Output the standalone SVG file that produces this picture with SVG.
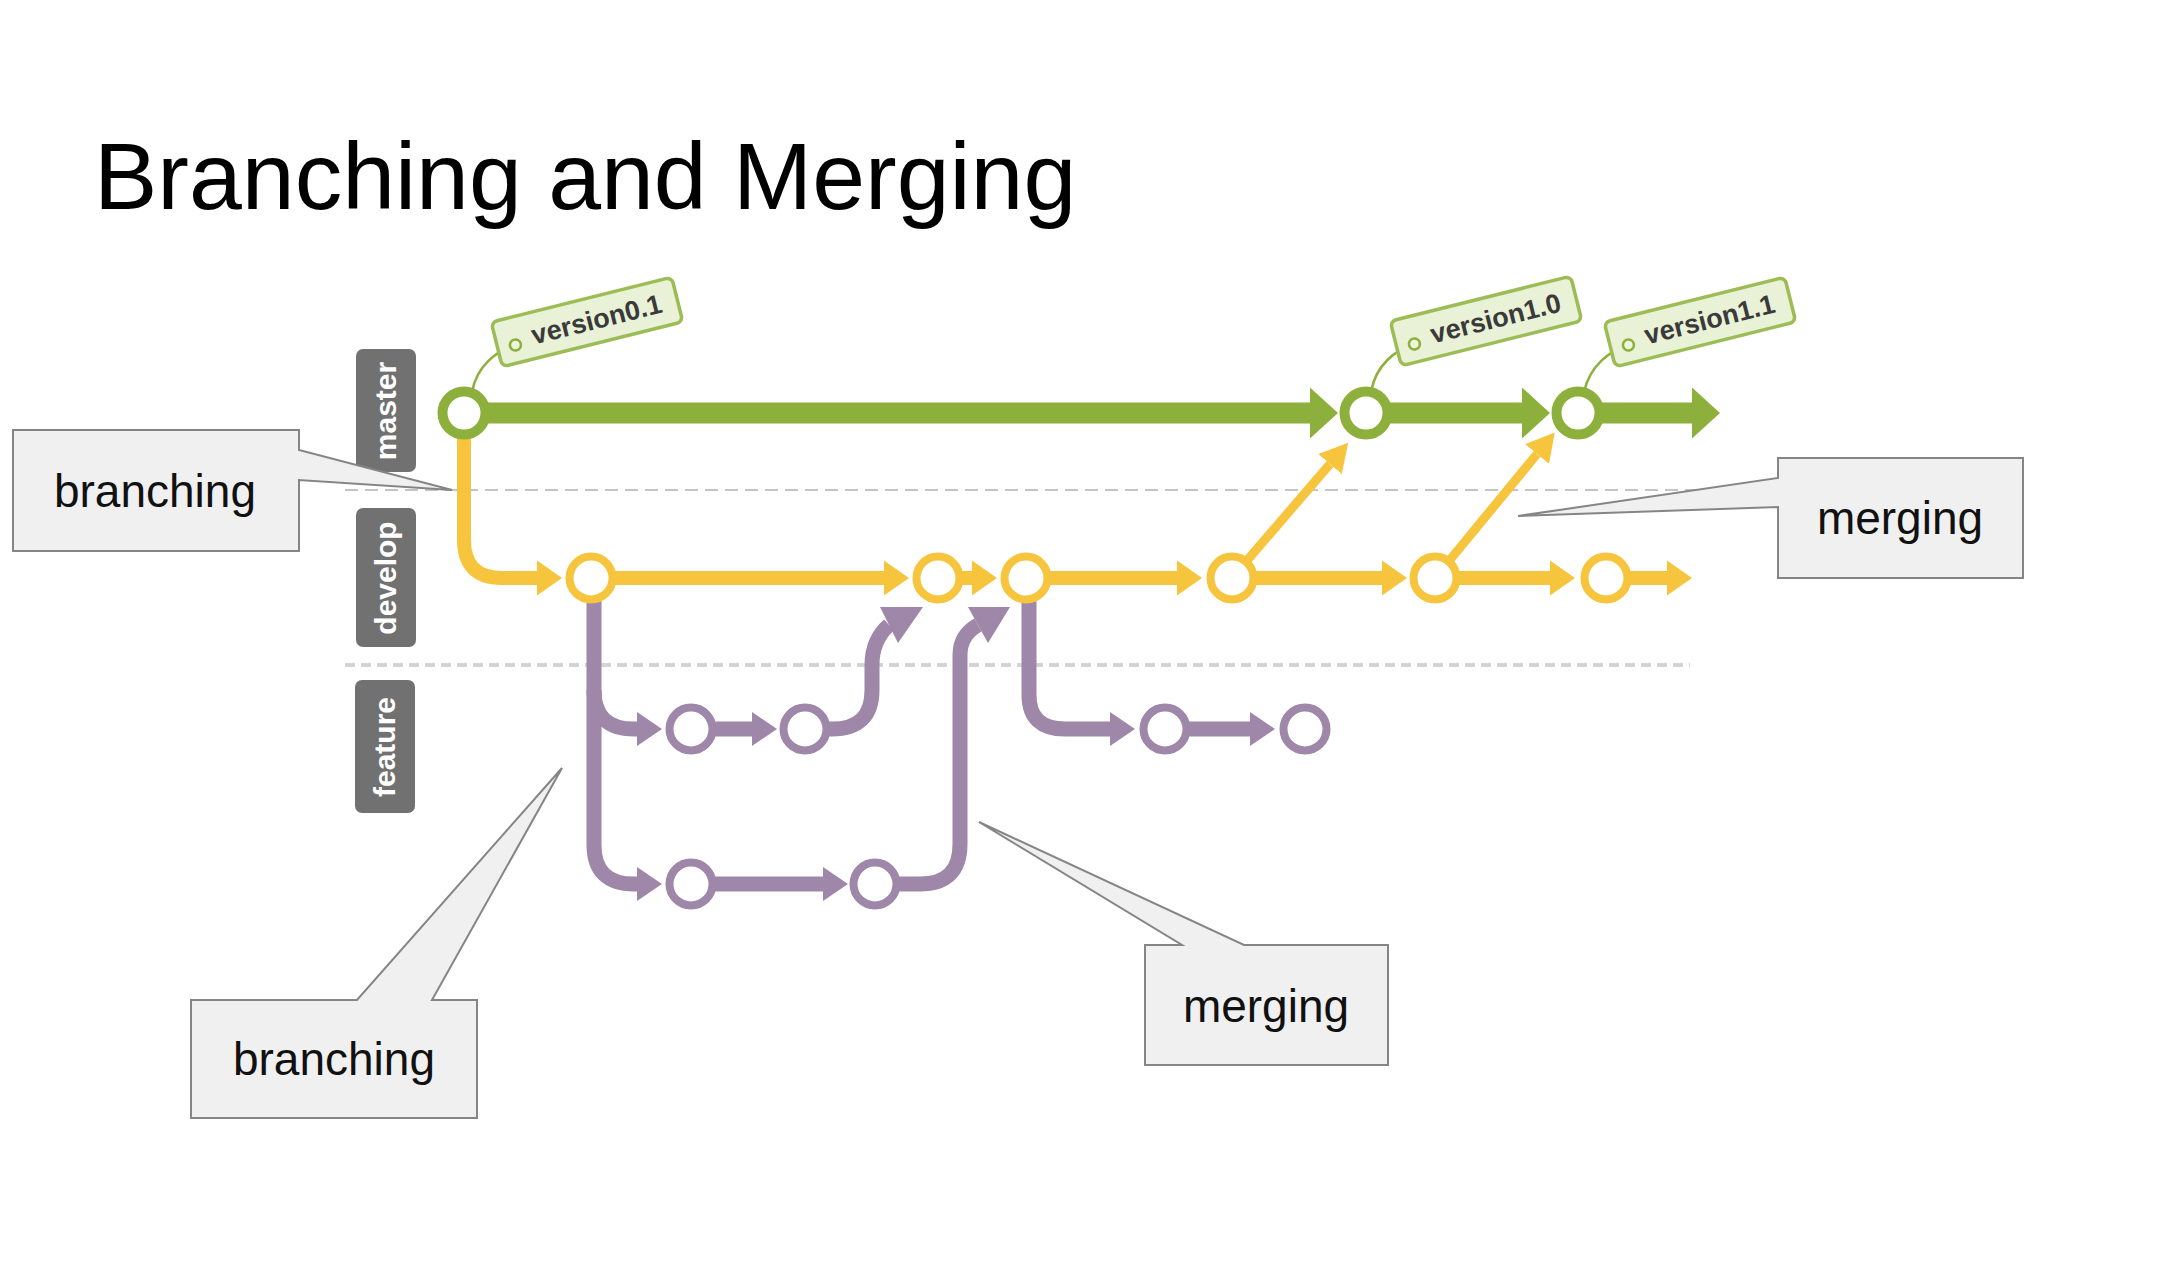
<svg xmlns="http://www.w3.org/2000/svg" width="2166" height="1288" viewBox="0 0 2166 1288">
<style>
.title{font-family:"Liberation Sans",Arial,sans-serif;font-size:95px;fill:#000}
.lane{fill:#717171}
.lanet{font-family:"Liberation Sans",Arial,sans-serif;font-size:30px;font-weight:bold;fill:#fff;text-anchor:middle}
.gl{fill:none;stroke:#8db03c;stroke-width:21}
.yl{fill:none;stroke:#f6c53d;stroke-width:14}
.yd{fill:none;stroke:#f6c53d;stroke-width:9}
.pl{fill:none;stroke:#9e87a8;stroke-width:15}
.gn{fill:#fff;stroke:#8db03c;stroke-width:10}
.yn{fill:#fff;stroke:#f6c53d;stroke-width:8}
.pn{fill:#fff;stroke:#9e87a8;stroke-width:8}
.tag{fill:#e9f1d6;stroke:#9cbd55;stroke-width:3.5}
.hole{fill:#eef5dd;stroke:#8db03c;stroke-width:2.5}
.str{fill:none;stroke:#8db03c;stroke-width:2.5}
.tagt{font-family:"Liberation Sans",Arial,sans-serif;font-size:27px;font-weight:bold;fill:#3a3a3a;text-anchor:middle}
.co{fill:#f0f0f0;stroke:#858585;stroke-width:2}
.cot{font-family:"Liberation Sans",Arial,sans-serif;font-size:46px;fill:#111;text-anchor:middle}
</style>
<defs>
<marker id="ag" markerUnits="userSpaceOnUse" viewBox="0 -26 30 52" refX="0" refY="0" markerWidth="30" markerHeight="52" orient="auto"><path d="M0,-25.5 L28,0 L0,25.5 Z" fill="#8db03c"/></marker>
<marker id="ay" markerUnits="userSpaceOnUse" viewBox="0 -18 27 36" refX="0" refY="0" markerWidth="27" markerHeight="36" orient="auto"><path d="M0,-17.5 L25,0 L0,17.5 Z" fill="#f6c53d"/></marker>
<marker id="ayd" markerUnits="userSpaceOnUse" viewBox="0 -16 30 32" refX="0" refY="0" markerWidth="30" markerHeight="32" orient="auto"><path d="M0,-15.5 L28,0 L0,15.5 Z" fill="#f6c53d"/></marker>
<marker id="ap" markerUnits="userSpaceOnUse" viewBox="0 -18 27 36" refX="0" refY="0" markerWidth="27" markerHeight="36" orient="auto"><path d="M0,-17 L25,0 L0,17 Z" fill="#9e87a8"/></marker>
</defs>
<rect width="2166" height="1288" fill="#fff"/>
<text class="title" x="94" y="209">Branching and Merging</text>

<g id="lanes">
<path d="M345,490 H1700" stroke="#c4c4c4" stroke-width="2" stroke-dasharray="13 7" fill="none"/>
<path d="M345,665 H1690" stroke="#d4d4d4" stroke-width="4" stroke-dasharray="10 6" fill="none"/>
<g id="lane-master"><rect class="lane" x="356" y="349" width="60" height="123" rx="7"/><text class="lanet" transform="translate(386,411) rotate(-90)" x="0" y="10">master</text></g>
<g id="lane-develop"><rect class="lane" x="356" y="508" width="60" height="139" rx="7"/><text class="lanet" transform="translate(386,578) rotate(-90)" x="0" y="10">develop</text></g>
<g id="lane-feature"><rect class="lane" x="355" y="680" width="60" height="133" rx="7"/><text class="lanet" transform="translate(385,747) rotate(-90)" x="0" y="10">feature</text></g>
</g>

<g id="connectors">
<path class="gl" d="M464,413 H1310" marker-end="url(#ag)"/>
<path class="gl" d="M1366,413 H1522" marker-end="url(#ag)"/>
<path class="gl" d="M1578,413 H1692" marker-end="url(#ag)"/>
<path class="yl" d="M464,438 V540 Q464,578 502,578 H537" marker-end="url(#ay)"/>
<path class="yl" d="M591,578 H884" marker-end="url(#ay)"/>
<path class="yl" d="M938,578 H972" marker-end="url(#ay)"/>
<path class="yl" d="M1026,578 H1177" marker-end="url(#ay)"/>
<path class="yl" d="M1232,578 H1382" marker-end="url(#ay)"/>
<path class="yl" d="M1435,578 H1550" marker-end="url(#ay)"/>
<path class="yl" d="M1606,578 H1667" marker-end="url(#ay)"/>
<path class="yd" d="M1232,578 L1330,464" marker-end="url(#ayd)"/>
<path class="yd" d="M1435,578 L1537,454" marker-end="url(#ayd)"/>
<path class="pl" d="M594,590 V845 Q594,884 634,884 H637" marker-end="url(#ap)"/>
<path class="pl" d="M594,690 Q594,729 634,729 H637" marker-end="url(#ap)"/>
<path class="pl" d="M691,729 H752" marker-end="url(#ap)"/>
<path class="pl" d="M691,884 H823" marker-end="url(#ap)"/>
<path class="pl" d="M805,729 H832 Q872,729 872,690 V665 Q872,640 889,625"/>
<polygon points="880,607 923,607 898,643" fill="#9e87a8"/>
<path class="pl" d="M875,884 H920 Q960,884 960,844 V655 Q960,635 978,625"/>
<polygon points="968,607 1010,607 988,643" fill="#9e87a8"/>
<path class="pl" d="M1029,590 V695 Q1029,729 1065,729 H1110" marker-end="url(#ap)"/>
<path class="pl" d="M1165,729 H1250" marker-end="url(#ap)"/>
<path class="str" d="M515,345 C497,351 477,365 472,392"/>
<path class="str" d="M1414,344 C1396,350 1376,364 1371,392"/>
<path class="str" d="M1628,345 C1610,351 1590,365 1584,392"/>
</g>

<g id="node-m1"><circle class="gn" cx="464" cy="413" r="21.5"/></g>
<g id="node-m2"><circle class="gn" cx="1366" cy="413" r="21.5"/></g>
<g id="node-m3"><circle class="gn" cx="1578" cy="413" r="21.5"/></g>
<g id="node-d1"><circle class="yn" cx="591" cy="578" r="21.5"/></g>
<g id="node-d2"><circle class="yn" cx="938" cy="578" r="21.5"/></g>
<g id="node-d3"><circle class="yn" cx="1026" cy="578" r="21.5"/></g>
<g id="node-d4"><circle class="yn" cx="1232" cy="578" r="21.5"/></g>
<g id="node-d5"><circle class="yn" cx="1435" cy="578" r="21.5"/></g>
<g id="node-d6"><circle class="yn" cx="1606" cy="578" r="21.5"/></g>
<g id="node-f1"><circle class="pn" cx="691" cy="729" r="21.5"/></g>
<g id="node-f2"><circle class="pn" cx="805" cy="729" r="21.5"/></g>
<g id="node-f3"><circle class="pn" cx="1165" cy="729" r="21.5"/></g>
<g id="node-f4"><circle class="pn" cx="1305" cy="729" r="21.5"/></g>
<g id="node-f5"><circle class="pn" cx="691" cy="884" r="21.5"/></g>
<g id="node-f6"><circle class="pn" cx="875" cy="884" r="21.5"/></g>

<g id="tag-v01" transform="translate(587,322) rotate(-14)"><rect class="tag" x="-93" y="-23" width="186" height="46" rx="6"/><circle class="hole" cx="-75" cy="5" r="5.5"/><text class="tagt" x="10" y="9">version0.1</text></g>
<g id="tag-v10" transform="translate(1486,321) rotate(-14)"><rect class="tag" x="-93" y="-23" width="186" height="46" rx="6"/><circle class="hole" cx="-75" cy="5" r="5.5"/><text class="tagt" x="10" y="9">version1.0</text></g>
<g id="tag-v11" transform="translate(1700,322) rotate(-14)"><rect class="tag" x="-93" y="-23" width="186" height="46" rx="6"/><circle class="hole" cx="-75" cy="5" r="5.5"/><text class="tagt" x="10" y="9">version1.1</text></g>

<g id="callout-branching-1"><path class="co" d="M13,430 H299 V450 L452,490 L299,480 V551 H13 Z"/><text class="cot" x="155" y="507">branching</text></g>
<g id="callout-merging-1"><path class="co" d="M1778,458 H2023 V578 H1778 V507 L1518,516 L1778,478 Z"/><text class="cot" x="1900" y="534">merging</text></g>
<g id="callout-branching-2"><path class="co" d="M191,1000 H357 L562,768 L432,1000 H477 V1118 H191 Z"/><text class="cot" x="334" y="1075">branching</text></g>
<g id="callout-merging-2"><path class="co" d="M1145,945 H1182 L979,822 L1244,945 H1388 V1065 H1145 Z"/><text class="cot" x="1266" y="1022">merging</text></g>
</svg>
